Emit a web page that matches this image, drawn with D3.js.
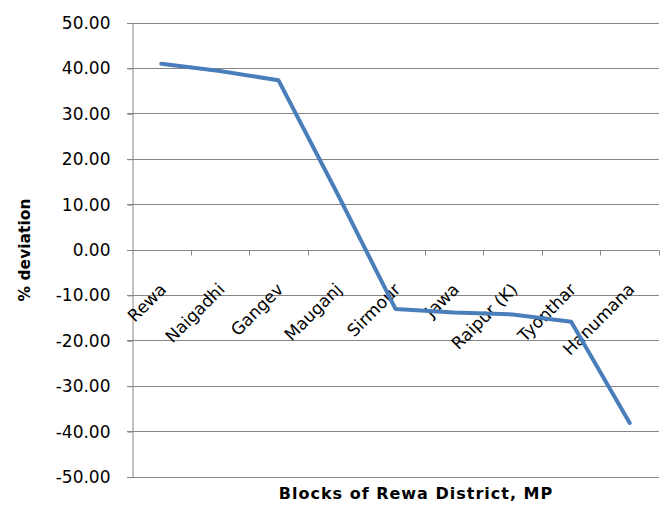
<!DOCTYPE html>
<head>
<meta charset="utf-8">
<style>
    body { margin: 0; background: #fff; }
    .grid line { stroke: #868686; stroke-width: 1px; }
    .axis path, .axis line { stroke: #868686; stroke-width: 1px; }
    .axis text { font-family: "DejaVu Sans", sans-serif; fill: #000; }
    .line { fill: none; stroke: #4a7ebb; stroke-width: 4px; stroke-linejoin: round; stroke-linecap: round; }
</style>
<title>% deviation by block</title>
</head>
<body>
<script src="https://d3js.org/d3.v7.min.js"></script>
<script>
    // data
    const blocks = ['Rewa', 'Naigadhi', 'Gangev', 'Mauganj', 'Sirmour', 'Jawa', 'Raipur (K)', 'Tyonthar', 'Hanumana'];
    const deviation = [40.9, 39.3, 37.3, 12.5, -13.1, -13.9, -14.3, -15.9, -38.2];
    const yTicks = [-50, -40, -30, -20, -10, 0, 10, 20, 30, 40, 50];

    const width = 670, height = 506;
    const plot = { left: 132, right: 659, top: 22.5, bottom: 476.5 };

    const svg = d3.select('body').append('svg')
        .attr('width', width)
        .attr('height', height);

    const x = d3.scaleBand().domain(blocks).range([plot.left, plot.right]).padding(0);
    const y = d3.scaleLinear().domain([-50, 50]).range([plot.bottom, plot.top]);

    // gridlines
    svg.append('g').attr('class', 'grid')
        .selectAll('line').data(yTicks).enter().append('line')
        .attr('x1', plot.left - 5).attr('x2', plot.right)
        .attr('y1', d => Math.round(y(d)) + 0.5).attr('y2', d => Math.round(y(d)) + 0.5);

    // y axis (plain hyphen for negatives, like the original)
    const yAxis = svg.append('g').attr('class', 'axis')
        .attr('transform', `translate(${plot.left + 0.5},0.5)`)
        .call(d3.axisLeft(y).tickValues(yTicks).tickFormat(d => d.toFixed(2)).tickSize(5).tickSizeOuter(0).tickPadding(17));
    yAxis.selectAll('text').attr('font-size', '17px');

    // x axis at value 0
    const y0 = Math.round(y(0)) + 0.5;
    const xAxis = svg.append('g').attr('class', 'axis')
        .attr('transform', `translate(0,${y0})`)
        .call(d3.axisBottom(x).tickSize(0).tickSizeOuter(0));
    xAxis.select('.domain').attr('d', `M${plot.left},0H${plot.right}`);
    xAxis.selectAll('text')
        .attr('font-size', '17px')
        .attr('text-anchor', 'end')
        .attr('y', 0).attr('dy', 0)
        .attr('transform', 'translate(6,40) rotate(-45)');

    // category boundary ticks
    xAxis.selectAll('.btick').data(blocks).enter().append('line')
        .attr('class', 'btick')
        .attr('x1', d => Math.round(x(d) + x.bandwidth()) + 0.5)
        .attr('x2', d => Math.round(x(d) + x.bandwidth()) + 0.5)
        .attr('y1', 0).attr('y2', 5)
        .attr('stroke', '#868686');

    // the line
    const line = d3.line()
        .x((d, i) => x(blocks[i]) + x.bandwidth() / 2)
        .y(d => y(d));
    svg.append('path').datum(deviation)
        .attr('class', 'line')
        .attr('d', line);

    // titles
    svg.append('text')
        .attr('transform', 'translate(30,250) rotate(-90)')
        .attr('text-anchor', 'middle')
        .attr('font-family', '"DejaVu Sans", sans-serif')
        .attr('font-weight', 'bold')
        .attr('font-size', '15.5px')
        .text('% deviation');

    svg.append('text')
        .attr('x', 416).attr('y', 499)
        .attr('text-anchor', 'middle')
        .attr('font-family', '"DejaVu Sans", sans-serif')
        .attr('font-weight', 'bold')
        .attr('font-size', '16px')
        .attr('letter-spacing', '1px')
        .text('Blocks of Rewa District, MP');
</script>
</body>
